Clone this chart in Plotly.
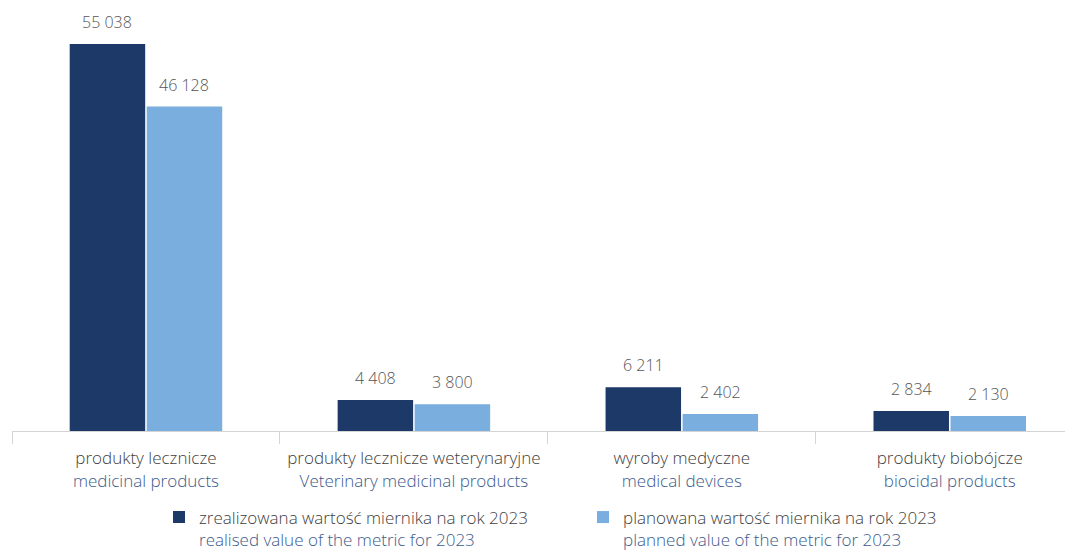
import plotly.graph_objects as go

categories = ["produkty lecznicze", "produkty lecznicze weterynaryjne", "wyroby medyczne", "produkty biobójcze"]
categories_en = ["medicinal products", "Veterinary medicinal products", "medical devices", "biocidal products"]
realised = [55038, 4408, 6211, 2834]
planned = [46128, 3800, 2402, 2130]
series_pl = ["zrealizowana wartość miernika na rok 2023", "planowana wartość miernika na rok 2023"]
series_en = ["realised value of the metric for 2023", "planned value of the metric for 2023"]

DARK = "#1d3967"
LIGHT = "#7aaede"
TXT = "#404040"
BLUE_TXT = "#3c5a8c"
FONT = "Open Sans, sans-serif"
BARGAP = 0.425

def fmt(v):
    return f"{v:,}".replace(",", " ")

def two_line(pl, en):
    return f'{pl}<br><span style="color:{BLUE_TXT}">{en}</span>'

fig = go.Figure()
for vals, color, pl, en in [(realised, DARK, series_pl[0], series_en[0]),
                            (planned, LIGHT, series_pl[1], series_en[1])]:
    fig.add_bar(x=categories, y=vals, marker_color=color, marker_line_width=0,
                name=two_line(pl, en), hoverinfo="skip")

group_w = 1 - BARGAP
for i in range(len(categories)):
    for j, vals in enumerate([realised, planned]):
        fig.add_annotation(x=i + (j - 0.5) * group_w / 2, y=vals[i], xref="x", yref="y",
                           text=fmt(vals[i]), showarrow=False, yanchor="bottom", yshift=9,
                           font=dict(family=FONT, size=16, color="#555555", weight=300))

fig.update_layout(
    width=1065, height=544,
    margin=dict(l=4, r=0, t=1, b=121, autoexpand=False),
    paper_bgcolor="white", plot_bgcolor="white",
    barmode="group", bargap=BARGAP, bargroupgap=0.02,
    font=dict(family=FONT, size=17, color=TXT, weight=300),
    showlegend=True,
    legend=dict(orientation="h", xref="container", yref="container", x=0.1418, y=0.0965,
                xanchor="left", yanchor="top", valign="top",
                entrywidth=379, entrywidthmode="pixels",
                font=dict(family=FONT, size=17, color=TXT, weight=300), traceorder="normal"),
)
fig.update_xaxes(type="category", tickvals=categories,
                 ticktext=[two_line(p, e) for p, e in zip(categories, categories_en)],
                 range=[-0.5, 3.46], showline=True, linecolor="#d4d4d4", linewidth=1,
                 ticks="outside", tickson="boundaries", ticklen=12, tickcolor="#d4d4d4",
                 ticklabelstandoff=12, automargin=False,
                 showgrid=False, tickfont=dict(family=FONT, size=17, color=TXT, weight=300),
                 fixedrange=True)
fig.update_yaxes(range=[0, 60000], visible=False, showgrid=False, fixedrange=True)

fig.write_html("out.html")
